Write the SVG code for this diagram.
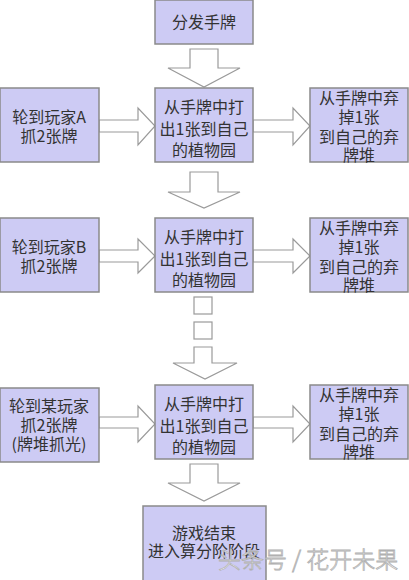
<svg xmlns="http://www.w3.org/2000/svg" width="409" height="580" viewBox="0 0 409 580">
<style>
.box{fill:#cdcbf4;stroke:#8a8a8a;stroke-width:1.5}
.arr{fill:#ffffff;stroke:#9a9a9a;stroke-width:1.2}
.t{font-family:"Noto Sans CJK SC","Noto Sans",sans-serif;font-size:16px;fill:#333;text-anchor:middle}
.wm{font-family:"Noto Sans CJK SC",sans-serif;font-size:23px;fill:#ffffff;stroke:#b0b0b0;stroke-width:0.8;font-weight:300}
</style>
<rect width="409" height="580" fill="#ffffff"/>
<g id="connectors">
<polygon class="arr" points="190,49 218,49 218,68 240,68 204,87 168,68 190,68"/>
<polygon class="arr" points="99,120 138,120 138,108 155,126 138,145 138,132 99,132"/>
<polygon class="arr" points="253,120 293,120 293,108 310,126 293,145 293,132 253,132"/>
<polygon class="arr" points="190,172 218,172 218,192 240,192 204,208 168,192 190,192"/>
<polygon class="arr" points="99,250 138,250 138,239 155,256 138,273 138,262 99,262"/>
<polygon class="arr" points="253,250 293,250 293,239 310,256 293,273 293,262 253,262"/>
<rect class="arr" x="194" y="297" width="18" height="17"/>
<rect class="arr" x="194" y="322" width="18" height="17"/>
<polygon class="arr" points="194,347 212,347 212,363 237,363 205,379 173,363 194,363"/>
<polygon class="arr" points="99,417 138,417 138,406 155,424 138,442 138,428 99,428"/>
<polygon class="arr" points="253,417 293,417 293,406 310,424 293,442 293,428 253,428"/>
<polygon class="arr" points="190,464 218,464 218,483 240,483 204,501 168,483 190,483"/>
</g>
<g id="n-deal"><rect class="box" x="155" y="0" width="98" height="44"/><text class="t" x="204" y="28">分发手牌</text></g>
<g id="n-a-draw"><rect class="box" x="0" y="88" width="99" height="74"/><text class="t" x="49" y="123">轮到玩家A</text><text class="t" x="49" y="142">抓2张牌</text></g>
<g id="n-a-play"><rect class="box" x="155" y="88" width="98" height="74"/><text class="t" x="204" y="113">从手牌中打</text><text class="t" x="204" y="135">出1张到自己</text><text class="t" x="204" y="156">的植物园</text></g>
<g id="n-a-disc"><rect class="box" x="310" y="88" width="98" height="74"/><text class="t" x="359" y="104">从手牌中弃</text><text class="t" x="359" y="123">掉1张</text><text class="t" x="359" y="143">到自己的弃</text><text class="t" x="359" y="161">牌堆</text></g>
<g id="n-b-draw"><rect class="box" x="0" y="218" width="99" height="74"/><text class="t" x="49" y="253">轮到玩家B</text><text class="t" x="49" y="272">抓2张牌</text></g>
<g id="n-b-play"><rect class="box" x="155" y="218" width="98" height="74"/><text class="t" x="204" y="243">从手牌中打</text><text class="t" x="204" y="265">出1张到自己</text><text class="t" x="204" y="286">的植物园</text></g>
<g id="n-b-disc"><rect class="box" x="310" y="218" width="98" height="74"/><text class="t" x="359" y="234">从手牌中弃</text><text class="t" x="359" y="253">掉1张</text><text class="t" x="359" y="273">到自己的弃</text><text class="t" x="359" y="291">牌堆</text></g>
<g id="n-x-draw"><rect class="box" x="0" y="388" width="99" height="74"/><text class="t" x="49" y="412">轮到某玩家</text><text class="t" x="49" y="431">抓2张牌</text><text class="t" x="49" y="450">(牌堆抓光)</text></g>
<g id="n-x-play"><rect class="box" x="155" y="385" width="98" height="74"/><text class="t" x="204" y="410">从手牌中打</text><text class="t" x="204" y="432">出1张到自己</text><text class="t" x="204" y="453">的植物园</text></g>
<g id="n-x-disc"><rect class="box" x="310" y="385" width="98" height="74"/><text class="t" x="359" y="401">从手牌中弃</text><text class="t" x="359" y="420">掉1张</text><text class="t" x="359" y="440">到自己的弃</text><text class="t" x="359" y="458">牌堆</text></g>
<g id="n-end"><rect class="box" x="143" y="506" width="123" height="76"/><text class="t" x="204" y="539">游戏结束</text><text class="t" x="204" y="557">进入算分阶阶段</text></g>
<text class="wm" x="218" y="568">头条号 / 花开未果</text>
</svg>
